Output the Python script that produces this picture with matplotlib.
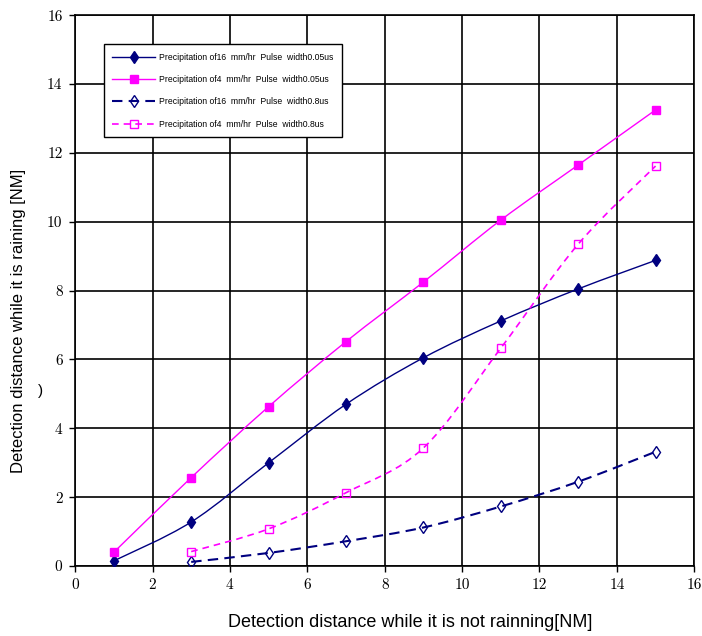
import numpy as np
import matplotlib
matplotlib.use("Agg")
import matplotlib.pyplot as plt
from matplotlib.path import Path
from matplotlib.patches import PathPatch

# data
x_a = [1, 3, 5, 7, 9, 11, 13, 15]
rain16_005 = [0.15, 1.28, 3.0, 4.7, 6.05, 7.12, 8.05, 8.88]
rain4_005 = [0.4, 2.57, 4.63, 6.52, 8.25, 10.05, 11.65, 13.25]

x_b = [3, 5, 7, 9, 11, 13, 15]
rain16_08 = [0.12, 0.38, 0.72, 1.12, 1.73, 2.45, 3.32]
rain4_08 = [0.42, 1.08, 2.13, 3.43, 6.33, 9.35, 11.62]

labels = [
    "Precipitation of16  mm/hr  Pulse  width0.05us",
    "Precipitation of4  mm/hr  Pulse  width0.05us",
    "Precipitation of16  mm/hr  Pulse  width0.8us",
    "Precipitation of4  mm/hr  Pulse  width0.8us",
]

NAVY = "#000080"
MAG = "#ff00ff"


def smooth_path(xs, ys):
    # Excel-style smoothed line: Catmull-Rom segments as cubic Beziers
    pts = np.column_stack([np.asarray(xs, float), np.asarray(ys, float)])
    verts = [pts[0]]
    codes = [Path.MOVETO]
    n = len(pts)
    for i in range(n - 1):
        p0 = pts[max(i - 1, 0)]
        p1 = pts[i]
        p2 = pts[i + 1]
        p3 = pts[min(i + 2, n - 1)]
        verts += [p1 + (p2 - p0) / 6.0, p2 - (p3 - p1) / 6.0, p2]
        codes += [Path.CURVE4] * 3
    return Path(verts, codes)


fig = plt.figure(figsize=(7.02, 6.36), dpi=100)
ax = fig.add_axes([0.107, 0.110, 0.882, 0.866])

series = [
    (x_a, rain16_005, NAVY, "-", "d", NAVY, 1.0),
    (x_a, rain4_005, MAG, "-", "s", MAG, 1.0),
    (x_b, rain16_08, NAVY, (0, (5, 3)), "d", "none", 1.5),
    (x_b, rain4_08, MAG, (0, (4, 3)), "s", "none", 1.2),
]

handles = []
for (xs, ys, col, ls, mk, fc, lw), lab in zip(series, labels):
    ax.add_patch(PathPatch(smooth_path(xs, ys), facecolor="none",
                           edgecolor=col, lw=lw, linestyle=ls, zorder=3))
    ax.plot(xs, ys, linestyle="none", marker=mk, color=col,
            markerfacecolor=fc, markeredgecolor=col,
            markersize=6 if mk == "d" else 5.5, markeredgewidth=1.0, zorder=4)
    h, = ax.plot([], [], linestyle=ls, color=col, lw=lw, marker=mk,
                 markerfacecolor=fc, markeredgecolor=col, markersize=6)
    handles.append(h)

ax.set_xlim(0, 16)
ax.set_ylim(0, 16)
ax.set_xticks(np.arange(0, 17, 2))
ax.set_yticks(np.arange(0, 17, 2))
ax.grid(True, color="black", linewidth=1.2)
ax.set_axisbelow(True)
for s in ax.spines.values():
    s.set_linewidth(1.2)
ax.tick_params(direction="out", length=4, width=1.0, labelsize=11, pad=5)
for t in ax.get_xticklabels() + ax.get_yticklabels():
    t.set_fontfamily(["cmr10", "DejaVu Serif"])

sans = ["Liberation Sans Narrow", "Liberation Sans", "DejaVu Sans"]
fig.text(0.585, 0.022, "Detection distance while it is not rainning[NM]",
         fontsize=13, family=sans, ha="center", va="center")
fig.text(0.026, 0.495, "Detection distance while it is raining [NM]",
         fontsize=12, family=sans, ha="center", va="center", rotation=90)
fig.text(0.058, 0.385, ")", fontsize=11, family=sans, ha="center", va="center")

leg = ax.legend(handles, labels, loc="upper left",
                bbox_to_anchor=(0.046, 0.948), fontsize=6.2,
                frameon=True, fancybox=False, edgecolor="black",
                framealpha=1, handlelength=5, labelspacing=1.55,
                borderpad=1.0, handletextpad=0.4, borderaxespad=0)
leg.get_frame().set_linewidth(1.0)
for t in leg.get_texts():
    t.set_fontfamily(sans)

fig.savefig("out.png", dpi=100)
